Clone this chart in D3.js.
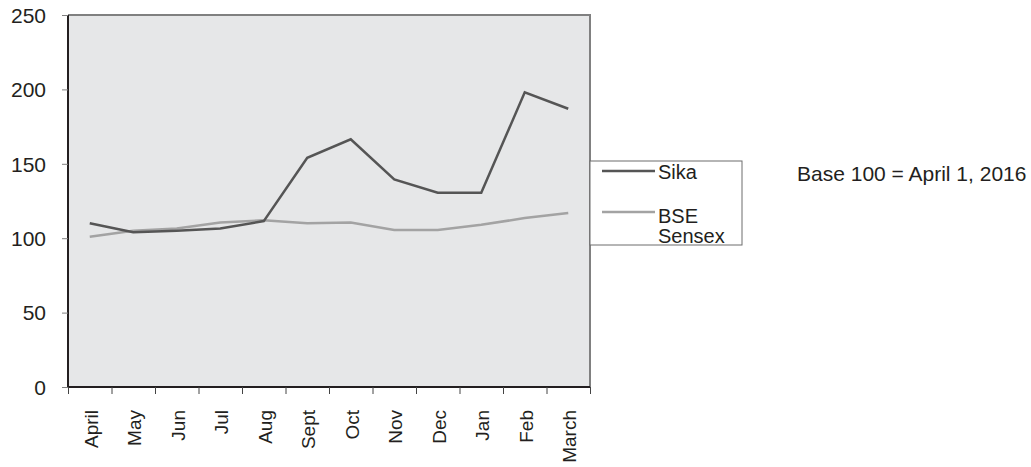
<!DOCTYPE html>
<html>
<head>
<meta charset="utf-8">
<script src="https://cdn.jsdelivr.net/npm/d3@7"></script>
<style>
  body { margin: 0; background: #fff; }
  svg text { font-family: "Liberation Sans", Arial, sans-serif; fill: #231f20; }
</style>
</head>
<body>
<div id="chart"></div>
<script>
// chart data
var months = ["April", "May", "Jun", "Jul", "Aug", "Sept", "Oct", "Nov", "Dec", "Jan", "Feb", "March"];
var sika = [110, 104, 105, 106.5, 111.5, 154, 166.5, 139.5, 130.5, 130.5, 198, 187];
var sensex = [101, 105, 106.5, 110.5, 112, 110, 110.5, 105.5, 105.5, 109, 113.5, 117];
var yTicks = [0, 50, 100, 150, 200, 250];
var seriesNames = ["Sika", "BSE Sensex"];

var svgWidth = 1031;
var svgHeight = 467;
var margin = { top: 15, left: 68 };
var chartWidth = 522;
var chartHeight = 372;

var svg = d3.select("#chart")
    .append("svg")
    .attr("width", svgWidth)
    .attr("height", svgHeight);

var chartGroup = svg.append("g")
    .attr("transform", `translate(${margin.left}, ${margin.top})`);

var xScale = d3.scaleBand()
    .domain(months)
    .range([0, chartWidth]);

var yScale = d3.scaleLinear()
    .domain([0, 250])
    .range([chartHeight, 0]);

// plot background
chartGroup.append("rect")
    .attr("width", chartWidth)
    .attr("height", chartHeight)
    .attr("fill", "#e6e7e8");

// top and right border
chartGroup.append("path")
    .attr("d", `M0,0H${chartWidth}V${chartHeight}`)
    .attr("fill", "none")
    .attr("stroke", "#808080")
    .attr("stroke-width", 2);

// left axis
var leftAxis = d3.axisLeft(yScale).tickValues(yTicks).tickSize(6);
var yAxisG = chartGroup.append("g").call(leftAxis);
yAxisG.select(".domain").attr("stroke", "#231f20").attr("stroke-width", 2)
    .attr("d", `M0,${chartHeight}V0`);
yAxisG.selectAll(".tick line").attr("stroke", "#808080");
yAxisG.selectAll(".tick text")
    .style("font-size", "21px")
    .attr("x", -22)
    .attr("dy", "0.35em");

// bottom axis with ticks at band edges
var edgeScale = d3.scaleLinear().domain([0, months.length]).range([0, chartWidth]);
var bottomAxis = d3.axisBottom(edgeScale).tickValues(d3.range(0, months.length + 1)).tickSize(7).tickFormat("");
var xAxisG = chartGroup.append("g")
    .attr("transform", `translate(0, ${chartHeight})`)
    .call(bottomAxis);
xAxisG.select(".domain").attr("stroke", "#231f20").attr("stroke-width", 2)
    .attr("d", `M0,0H${chartWidth}`);
xAxisG.selectAll(".tick line").attr("stroke", "#444");

// month labels, rotated
chartGroup.selectAll(".monthLabel")
    .data(months)
    .enter()
    .append("text")
    .attr("class", "monthLabel")
    .attr("transform", d => `translate(${xScale(d) + xScale.bandwidth() / 2 + 8}, ${chartHeight + 23}) rotate(-90)`)
    .attr("text-anchor", "end")
    .style("font-size", "19px")
    .text(d => d);

// lines
var line = d3.line()
    .x((d, i) => xScale(months[i]) + xScale.bandwidth() / 2)
    .y(d => yScale(d));

chartGroup.append("path")
    .datum(sensex)
    .attr("d", line)
    .attr("fill", "none")
    .attr("stroke", "#a3a3a3")
    .attr("stroke-width", 2.5);

chartGroup.append("path")
    .datum(sika)
    .attr("d", line)
    .attr("fill", "none")
    .attr("stroke", "#555555")
    .attr("stroke-width", 2.5);

// legend
var legend = svg.append("g").attr("transform", "translate(590, 161)");
legend.append("rect")
    .attr("width", 152)
    .attr("height", 84)
    .attr("fill", "#fff")
    .attr("stroke", "#6d6d6d")
    .attr("stroke-width", 1);

legend.append("line")
    .attr("x1", 12).attr("x2", 65)
    .attr("y1", 10).attr("y2", 10)
    .attr("stroke", "#555555").attr("stroke-width", 2.5);
legend.append("text")
    .attr("x", 68).attr("y", 18)
    .style("font-size", "20px")
    .text(seriesNames[0]);

legend.append("line")
    .attr("x1", 12).attr("x2", 65)
    .attr("y1", 51).attr("y2", 51)
    .attr("stroke", "#a3a3a3").attr("stroke-width", 2.5);
legend.append("text")
    .attr("x", 68).attr("y", 62)
    .style("font-size", "20px")
    .text("BSE");
legend.append("text")
    .attr("x", 68).attr("y", 82)
    .style("font-size", "20px")
    .text("Sensex");

// note
svg.append("text")
    .attr("x", 797)
    .attr("y", 181)
    .style("font-size", "21px")
    .text("Base 100 = April 1, 2016");
</script>
</body>
</html>
